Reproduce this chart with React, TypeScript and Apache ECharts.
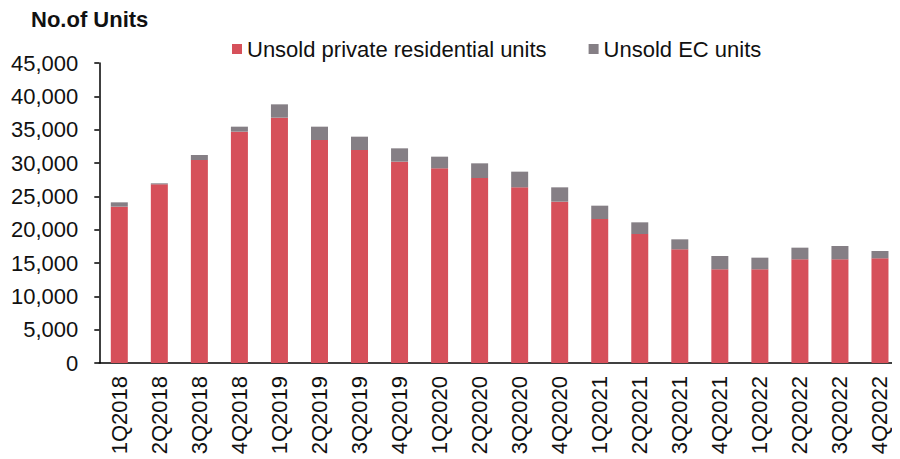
import React, { useEffect, useRef } from "react";
import * as echarts from "echarts";

const quarters = [
  "1Q2018", "2Q2018", "3Q2018", "4Q2018",
  "1Q2019", "2Q2019", "3Q2019", "4Q2019",
  "1Q2020", "2Q2020", "3Q2020", "4Q2020",
  "1Q2021", "2Q2021", "3Q2021", "4Q2021",
  "1Q2022", "2Q2022", "3Q2022", "4Q2022",
];

const privateUnits = [
  23450, 26800, 30450, 34700,
  36800, 33450, 31950, 30200,
  29200, 27750, 26350, 24200,
  21600, 19350, 17050, 14050,
  14050, 15550, 15550, 15700,
];

const ecUnits = [
  650, 150, 750, 750,
  2000, 2000, 2000, 2000,
  1750, 2200, 2350, 2150,
  2000, 1750, 1500, 2000,
  1750, 1750, 2000, 1100,
];

const FONT = "'Liberation Sans', Arial, sans-serif";

export default function App() {
  const ref = useRef<HTMLDivElement>(null);

  useEffect(() => {
    if (!ref.current) return;
    const chart = echarts.init(ref.current, undefined, { renderer: "svg" });
    chart.setOption({
      animation: false,
      backgroundColor: "#ffffff",
      textStyle: { fontFamily: FONT },
      title: {
        text: "No.of Units",
        left: 23,
        top: 0,
        padding: 0,
        textStyle: { fontFamily: FONT, fontSize: 22, fontWeight: "bold", color: "#111" },
      },
      legend: {
        left: 219,
        top: 25,
        itemWidth: 10,
        itemHeight: 10,
        itemGap: 42,
        icon: "rect",
        textStyle: { fontFamily: FONT, fontSize: 22, color: "#111" },
        data: ["Unsold private residential units", "Unsold EC units"],
      },
      grid: { left: 89, top: 55, width: 811, height: 300 },
      xAxis: {
        type: "category",
        data: quarters,
        axisLine: { lineStyle: { color: "#000", width: 1.5 } },
        axisTick: { inside: true, length: 7, lineStyle: { color: "#000", width: 1.5 } },
        axisLabel: {
          rotate: 90,
          margin: 13,
          fontFamily: FONT,
          fontSize: 22,
          color: "#111",
          interval: 0,
        },
      },
      yAxis: {
        type: "value",
        min: 0,
        max: 45000,
        interval: 5000,
        splitLine: { show: false },
        axisLine: { show: true, lineStyle: { color: "#000", width: 1.5 } },
        axisTick: { show: true, length: 5, lineStyle: { color: "#000", width: 1.5 } },
        axisLabel: {
          margin: 21,
          fontFamily: FONT,
          fontSize: 22,
          color: "#111",
          formatter: (v: number) => v.toLocaleString("en-US"),
        },
      },
      series: [
        {
          name: "Unsold private residential units",
          type: "bar",
          stack: "units",
          barWidth: 17,
          itemStyle: { color: "#d6505a" },
          data: privateUnits,
        },
        {
          name: "Unsold EC units",
          type: "bar",
          stack: "units",
          barWidth: 17,
          itemStyle: { color: "#857f85" },
          data: ecUnits,
        },
      ],
    });
    return () => chart.dispose();
  }, []);

  return <div ref={ref} style={{ width: 892, height: 451 }} />;
}
